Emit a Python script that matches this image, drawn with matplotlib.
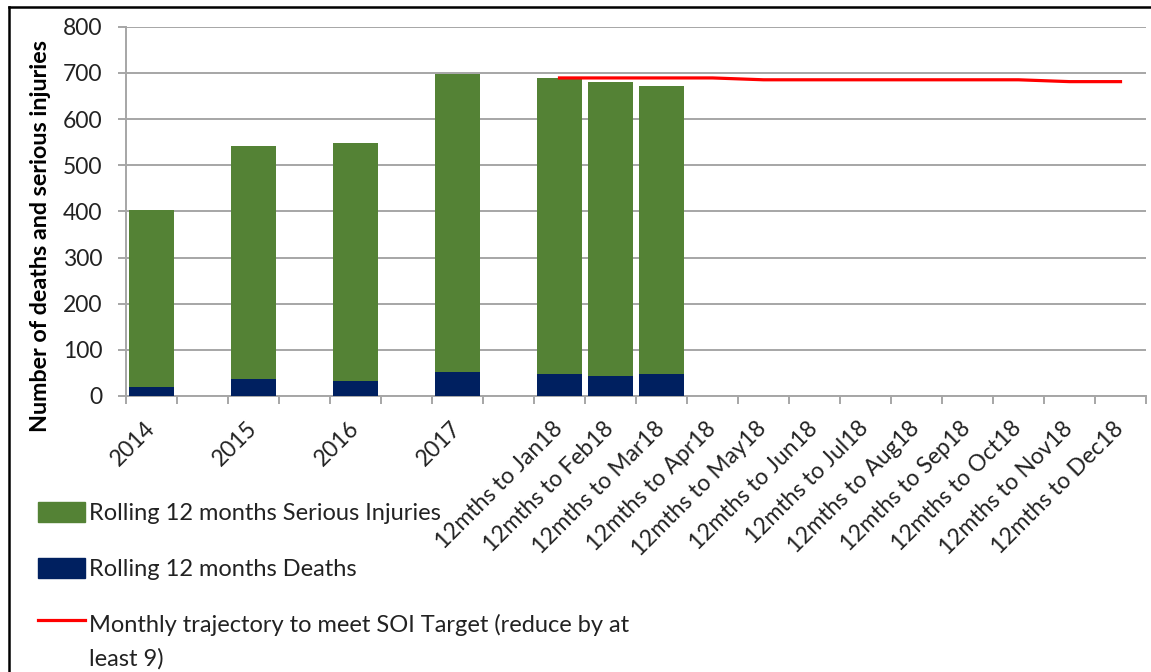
import numpy as np
import matplotlib
matplotlib.use("Agg")
import matplotlib.pyplot as plt
from matplotlib.lines import Line2D
from matplotlib.patches import Patch
from matplotlib.legend_handler import HandlerLine2D

plt.rcParams['font.family'] = ['Lato', 'DejaVu Sans']

nan = np.nan
months = ['Jan18', 'Feb18', 'Mar18', 'Apr18', 'May18', 'Jun18',
          'Jul18', 'Aug18', 'Sep18', 'Oct18', 'Nov18', 'Dec18']
categories = ['2014', '', '2015', '', '2016', '', '2017', ''] + ['12mths to ' + m for m in months]
deaths = [19, nan, 36, nan, 32, nan, 53, nan, 48, 43, 48] + [nan] * 9
injuries = [385, nan, 505, nan, 516, nan, 645, nan, 640, 637, 624] + [nan] * 9
trajectory = [nan] * 8 + [689, 689, 689, 689, 685, 685, 685, 685, 685, 685, 681, 681]

green = '#548235'
navy = '#002060'
grid_c = '#a6a6a6'
txt_c = '#222222'

fig = plt.figure(figsize=(11.51, 6.72), dpi=100)
ax = fig.add_axes([126 / 1151, 1 - 396 / 672, (1146 - 126) / 1151, (396 - 26.7) / 672])

x = np.arange(len(categories))
d = np.array(deaths, dtype=float)
inj = np.array(injuries, dtype=float)
ax.bar(x, d, width=0.87, color=navy, zorder=3)
ax.bar(x, inj, bottom=d, width=0.87, color=green, zorder=3)
ax.plot(x, trajectory, color='#ff0000', lw=2.3, zorder=4)

ax.set_xlim(-0.5, len(categories) - 0.5)
ax.set_ylim(0, 800)
ax.set_yticks(np.arange(0, 801, 100))
ax.yaxis.grid(True, color=grid_c, lw=1.4, zorder=0)
ax.tick_params(axis='y', length=6, width=1.4, color=grid_c, pad=11, labelsize=16.5)

ax.set_xticks(x)
ax.set_xticks(np.arange(-0.5, len(categories), 1), minor=True)
ax.tick_params(axis='x', which='major', length=0, pad=21)
ax.tick_params(axis='x', which='minor', length=6, width=1.4, color=grid_c)
ax.set_xticklabels(categories, rotation=45, ha='right', va='center',
                   rotation_mode='anchor', fontsize=16.5, color=txt_c)
for lab in ax.get_yticklabels():
    lab.set_color(txt_c)

for s in ['top', 'right']:
    ax.spines[s].set_visible(False)
for s in ['left', 'bottom']:
    ax.spines[s].set_color(grid_c)
    ax.spines[s].set_linewidth(1.4)

fig.text(41 / 1151, 1 - 236 / 672, 'Number of deaths and serious injuries',
         rotation=90, ha='center', va='center', fontsize=16.8, fontweight='bold')


class TopLine(HandlerLine2D):
    # keep the line level with the first row of a two-line label
    def create_artists(self, legend, orig_handle, xdescent, ydescent,
                       width, height, fontsize, trans):
        arts = super().create_artists(legend, orig_handle, xdescent, ydescent,
                                      width, height, fontsize, trans)
        for a in arts:
            a.set_ydata(np.asarray(a.get_ydata()) + 0.9 * fontsize)
        return arts


handles = [Patch(color=green), Patch(color=navy), Line2D([], [], color='#ff0000', lw=2.3)]
labels = ['Rolling 12 months Serious Injuries', 'Rolling 12 months Deaths',
          'Monthly trajectory to meet SOI Target (reduce by at\nleast 9)']
leg = fig.legend(handles, labels, loc='upper left',
                 bbox_to_anchor=(38 / 1151, 1 - 502 / 672),
                 frameon=False, fontsize=17, handlelength=2.0, handleheight=0.9,
                 handletextpad=0.15, labelspacing=1.45, borderpad=0, borderaxespad=0,
                 handler_map={Line2D: TopLine()})
for t in leg.get_texts():
    t.set_color(txt_c)
    t.set_linespacing(1.65)

fig.add_artist(Line2D([9 / 1151, 9 / 1151], [0, 1 - 6.5 / 672], color='black', lw=1.8))
fig.add_artist(Line2D([9 / 1151, 1], [1 - 6.5 / 672, 1 - 6.5 / 672], color='black', lw=1.8))

fig.savefig('out.png', dpi=100)
